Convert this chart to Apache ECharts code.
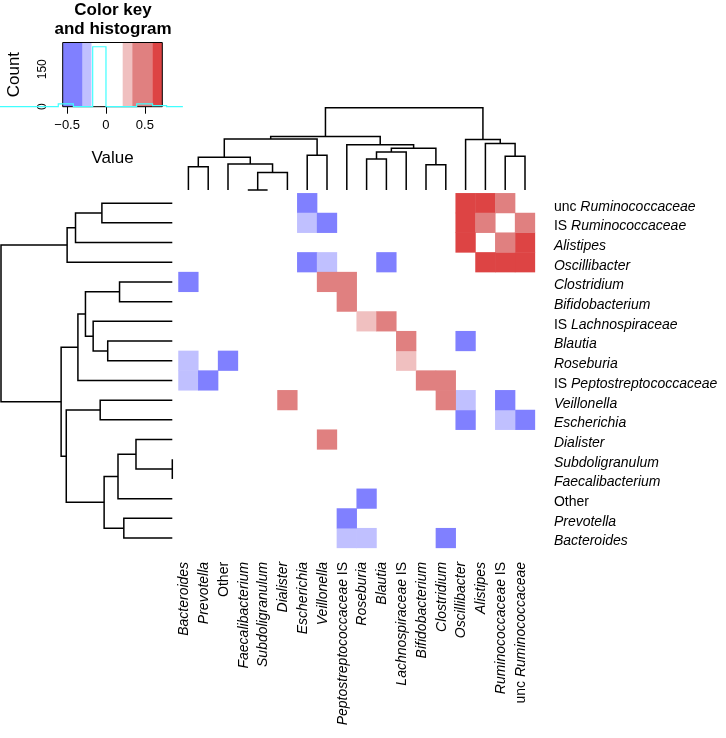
<!DOCTYPE html>
<html><head><meta charset="utf-8">
<script src="https://cdn.jsdelivr.net/npm/echarts@6/dist/echarts.min.js"></script>
<style>html,body{margin:0;padding:0;background:#fff}#c{width:726px;height:738px}</style>
</head><body><div id="c"></div>
<script>
// ---- data ----
const colLabels = ['Bacteroides','Prevotella','Other','Faecalibacterium','Subdoligranulum','Dialister','Escherichia','Veillonella','Peptostreptococcaceae IS','Roseburia','Blautia','Lachnospiraceae IS','Bifidobacterium','Clostridium','Oscillibacter','Alistipes','Ruminococcaceae IS','unc Ruminococcaceae'];
const rowLabels = ['unc Ruminococcaceae','IS Ruminococcaceae','Alistipes','Oscillibacter','Clostridium','Bifidobacterium','IS Lachnospiraceae','Blautia','Roseburia','IS Peptostreptococcaceae','Veillonella','Escherichia','Dialister','Subdoligranulum','Faecalibacterium','Other','Prevotella','Bacteroides'];
// significant correlations (symmetric), named by column labels
const pairs = [
 ['unc Ruminococcaceae','Escherichia',-0.47],
 ['unc Ruminococcaceae','Oscillibacter',0.66],
 ['unc Ruminococcaceae','Alistipes',0.64],
 ['unc Ruminococcaceae','Ruminococcaceae IS',0.48],
 ['Ruminococcaceae IS','Escherichia',-0.25],
 ['Ruminococcaceae IS','Veillonella',-0.44],
 ['Ruminococcaceae IS','Oscillibacter',0.63],
 ['Ruminococcaceae IS','Alistipes',0.46],
 ['Alistipes','Oscillibacter',0.68],
 ['Oscillibacter','Escherichia',-0.45],
 ['Oscillibacter','Veillonella',-0.26],
 ['Oscillibacter','Blautia',-0.43],
 ['Clostridium','Bacteroides',-0.42],
 ['Clostridium','Veillonella',0.44],
 ['Clostridium','Peptostreptococcaceae IS',0.50],
 ['Bifidobacterium','Peptostreptococcaceae IS',0.45],
 ['Lachnospiraceae IS','Roseburia',0.28],
 ['Lachnospiraceae IS','Blautia',0.47],
 ['Roseburia','Bacteroides',-0.24],
 ['Roseburia','Other',-0.41],
 ['Peptostreptococcaceae IS','Bacteroides',-0.23],
 ['Peptostreptococcaceae IS','Prevotella',-0.44],
 ['Veillonella','Dialister',0.42]
];
// hclust-style merges: negative = leaf (-(index+1) in column order), positive = earlier merge (1-based)
const merges = [
 [-4,-5,0.000],[1,-6,0.212],[-1,-2,0.283],[-13,-14,0.308],[-3,2,0.317],[-10,-11,0.377],
 [3,5,0.398],[-17,-18,0.411],[-7,-8,0.421],[6,-12,0.462],[10,4,0.507],[-9,11,0.551],
 [-16,8,0.565],[-15,13,0.614],[7,9,0.619],[15,12,0.649],[16,14,1.000]
];
// colour key
const bandEdges = [-0.557,-0.30,-0.184,0.215,0.338,0.596,0.725];
const bandColors = ['#8080FF','#C0C0FF','#FFFFFF','#F0C0C0','#E08080','#DD4444'];
const histEdges = [-1.364,-0.614,-0.42,-0.171,0,0.395,0.60,0.78,0.99];
const histCounts = [0,11,0,240,0,11,4,0];
const keyTicksX = [-0.5,0,0.5];
const keyTicksY = [0,50,100,150,200,250];
const keyLabelsY = [0,150];

// ---- build ----
const n = colLabels.length;
const cells = [];
pairs.forEach(([a,b,v])=>{
  const ia = colLabels.indexOf(a), ib = colLabels.indexOf(b);
  cells.push([ib, n-1-ia, v]);
  cells.push([ia, n-1-ib, v]);
});
const info = [];
function node(ref){ return ref < 0 ? {pos:-ref-1, h:0} : info[ref-1]; }
merges.forEach(m=>{ const a=node(m[0]), b=node(m[1]); info.push({pos:(a.pos+b.pos)/2, h:m[2], a, b}); });
const dendroData = info.map(d=>[d.a.pos, d.a.h, d.b.pos, d.b.h, d.h]);

const FONT = "'Liberation Sans', Arial, Helvetica, sans-serif";
const plainWords = ['unc','IS','Other'];
function fmt(s){ return s.split(' ').map(w => plainWords.includes(w) ? w : '{i|'+w+'}').join(' '); }
const rich = {i:{fontStyle:'italic', fontSize:14, fontFamily:FONT, color:'#000'}};
const dStyle = {stroke:'#000', lineWidth:1.5, fill:null};

const chart = echarts.init(document.getElementById('c'), null, {renderer:'canvas'});
chart.setOption({
  animation:false,
  textStyle:{fontFamily:FONT, color:'#000'},
  title:{text:'Color key\nand histogram', left:108, top:-4, textAlign:'center',
    textStyle:{fontSize:17, fontWeight:'bold', lineHeight:19, color:'#000', fontFamily:FONT}},
  grid:[
    {left:178.5, top:193.3, width:356.4, height:354.6},
    {left:178.5, top:107.7, width:356.4, height:82.3},
    {left:1, top:193.3, width:171.3, height:354.6},
    {left:62.7, top:42.5, width:99.6, height:64.2, show:true, z:10, backgroundColor:'rgba(0,0,0,0)', borderColor:'#000', borderWidth:1}
  ],
  xAxis:[
    {gridIndex:0, type:'category', data:colLabels, position:'bottom',
      axisLine:{show:false}, axisTick:{show:false}, splitLine:{show:false},
      axisLabel:{interval:0, rotate:90, margin:14, fontSize:14, color:'#000', formatter:fmt, rich, padding:[0,0,8,0]}},
    {gridIndex:1, type:'value', min:-0.5, max:n-0.5, show:false},
    {gridIndex:2, type:'value', min:0, max:1, inverse:true, show:false},
    {gridIndex:3, type:'value', min:bandEdges[0], max:bandEdges[bandEdges.length-1],
      axisLine:{show:false}, splitLine:{show:false},
      axisTick:{show:true, customValues:keyTicksX, length:7, lineStyle:{color:'#000'}},
      axisLabel:{customValues:keyTicksX, margin:12, fontSize:13, color:'#000',
        formatter:v => v < 0 ? '\u2212' + Math.abs(v) : String(v)},
      name:'Value', nameLocation:'middle', nameGap:43, nameTextStyle:{fontSize:17, color:'#000'}}
  ],
  yAxis:[
    {gridIndex:0, type:'category', data:rowLabels, position:'right', inverse:true,
      axisLine:{show:false}, axisTick:{show:false}, splitLine:{show:false},
      axisLabel:{interval:0, margin:19, fontSize:14, color:'#000', formatter:fmt, rich, padding:[7,0,0,0]}},
    {gridIndex:1, type:'value', min:0, max:1, show:false},
    {gridIndex:2, type:'value', min:-0.5, max:n-0.5, show:false},
    {gridIndex:3, type:'value', min:0, max:257, splitLine:{show:false},
      axisLine:{show:true, lineStyle:{color:'#000', width:1}},
      axisTick:{show:true, customValues:keyTicksY, length:6, lineStyle:{color:'#000'}},
      axisLabel:{customValues:keyLabelsY, rotate:90, margin:14, fontSize:12, color:'#000'},
      name:'Count', nameLocation:'middle', nameRotate:90, nameGap:40, nameTextStyle:{fontSize:17, color:'#000'}}
  ],
  visualMap:{type:'piecewise', show:false, seriesIndex:0, dimension:2,
    pieces: bandColors.map((c,i)=>({gte:bandEdges[i], lt:bandEdges[i+1], color:c}))},
  series:[
    {type:'heatmap', xAxisIndex:0, yAxisIndex:0, data:cells, itemStyle:{borderWidth:0}, emphasis:{disabled:true}},
    {type:'custom', xAxisIndex:1, yAxisIndex:1, data:dendroData, silent:true,
      renderItem:(p,api)=>{
        const pa=api.value(0), ha=api.value(1), pb=api.value(2), hb=api.value(3), h=api.value(4);
        return {type:'polyline', shape:{points:[api.coord([pa,ha]),api.coord([pa,h]),api.coord([pb,h]),api.coord([pb,hb])]}, style:dStyle};
      }},
    {type:'custom', xAxisIndex:2, yAxisIndex:2, data:dendroData, silent:true,
      encode:{x:1, y:0},
      renderItem:(p,api)=>{
        const pa=api.value(0), ha=api.value(1), pb=api.value(2), hb=api.value(3), h=api.value(4);
        return {type:'polyline', shape:{points:[api.coord([ha,pa]),api.coord([h,pa]),api.coord([h,pb]),api.coord([hb,pb])]}, style:dStyle};
      }},
    {type:'custom', xAxisIndex:3, yAxisIndex:3, silent:true,
      data: bandColors.map((c,i)=>[bandEdges[i], bandEdges[i+1], i]),
      renderItem:(p,api)=>{
        const p0 = api.coord([api.value(0), 257]), p1 = api.coord([api.value(1), 0]);
        return {type:'rect', shape:{x:p0[0], y:p0[1], width:p1[0]-p0[0], height:p1[1]-p0[1]},
          style:{fill:bandColors[api.value(2)]}};
      }},
    {type:'custom', xAxisIndex:3, yAxisIndex:3, silent:true, clip:false, z:20,
      data:[[0,0]],
      renderItem:(p,api)=>{
        const pts=[];
        for(let i=0;i<histCounts.length;i++){
          pts.push(api.coord([histEdges[i], histCounts[i]]));
          pts.push(api.coord([histEdges[i+1], histCounts[i]]));
        }
        return {type:'polyline', shape:{points:pts}, style:{stroke:'#40FFFF', lineWidth:1.2, fill:null}};
      }}
  ]
});
</script>
</body></html>
